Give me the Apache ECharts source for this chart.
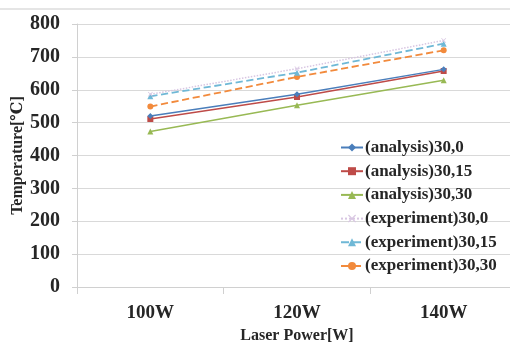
<!DOCTYPE html>
<html><head><meta charset="utf-8">
<script src="https://cdn.jsdelivr.net/npm/echarts@6/dist/echarts.min.js"></script>
<style>html,body{margin:0;padding:0;background:#fff}#c{width:510px;height:345px}</style>
</head><body><div id="c"></div>
<script>
const categories = ['100W','120W','140W'];
const yTicks = [0,100,200,300,400,500,600,700,800];
const seriesNames = ['(analysis)30,0','(analysis)30,15','(analysis)30,30','(experiment)30,0','(experiment)30,15','(experiment)30,30'];
const analysis30_0 = [520, 586, 662];
const analysis30_15 = [511, 578, 657];
const analysis30_30 = [473, 553, 629];
const experiment30_0 = [586, 664, 750];
const experiment30_15 = [580, 652, 740];
const experiment30_30 = [549, 639, 720];
const values = [analysis30_0, analysis30_15, analysis30_30, experiment30_0, experiment30_15, experiment30_30];

const colors = ['#4a7ebb','#be4b48','#98b954','#d8c6e2','#6fb8d6','#f28a3c'];
const crossPath = 'path://M0,1L1,0L5,4L9,0L10,1L6,5L10,9L9,10L5,6L1,10L0,9L4,5Z';
const symbols = ['diamond','rect','triangle',crossPath,'triangle','circle'];
const symbolSizes = [6,6,6,5,6,6];
const lineTypes = ['solid','solid','solid','dotted','dashed','dashed'];
const widths = [1.5,1.5,1.5,1.5,1.8,1.8];
const font = "'Liberation Serif', 'DejaVu Serif', serif";

const chart = echarts.init(document.getElementById('c'));
chart.setOption({
  animation: false,
  textStyle: {fontFamily: font},
  graphic: [{type:'line', shape:{x1:0,y1:9,x2:510,y2:9}, style:{stroke:'#dcdcdc', lineWidth:1.5}}],
  grid: {left: 77, top: 24, bottom: 58, width: 440, containLabel: false, outerBoundsMode: 'none'},
  legend: {
    orient: 'vertical', left: 335, top: 134,
    itemWidth: 22, itemHeight: 10, itemGap: 6.7,
    data: seriesNames,
    textStyle: {fontFamily: font, fontSize: 17, fontWeight: 'bold', color: '#262626', lineHeight: 16, padding:[0,0,0,-3]}
  },
  xAxis: {
    type: 'category', data: categories, boundaryGap: true,
    axisLine: {lineStyle: {color: '#d0d0d0'}},
    axisTick: {show: true, length: 7, interval: 0, lineStyle: {color: '#d0d0d0'}},
    axisLabel: {fontFamily: font, fontSize: 19, fontWeight: 'bold', color: '#262626', margin: 17},
    name: 'Laser Power[W]', nameLocation: 'middle', nameGap: 41, nameMoveOverlap: false,
    nameTextStyle: {fontFamily: font, fontSize: 16, fontWeight: 'bold', color: '#262626'}
  },
  yAxis: {
    type: 'value', min: yTicks[0], max: yTicks[yTicks.length-1], interval: 100,
    axisLine: {show: true, lineStyle: {color: '#d0d0d0'}},
    axisTick: {show: true, length: 5, lineStyle: {color: '#d0d0d0'}},
    splitLine: {lineStyle: {color: '#d9d9d9', width: 1}},
    axisLabel: {fontFamily: font, fontSize: 20, fontWeight: 'bold', color: '#262626', margin: 17},
    name: 'Temperature[℃]', nameLocation: 'middle', nameGap: 51, nameRotate: 90, nameMoveOverlap: false,
    nameTextStyle: {fontFamily: font, fontSize: 16, fontWeight: 'bold', color: '#262626'}
  },
  series: seriesNames.map((n, i) => ({
    name: n, type: 'line', data: values[i],
    symbol: symbols[i], symbolSize: symbolSizes[i],
    itemStyle: {color: colors[i]},
    lineStyle: {color: colors[i], width: widths[i], type: lineTypes[i]},
    z: 10 - i
  }))
});
</script></body></html>
